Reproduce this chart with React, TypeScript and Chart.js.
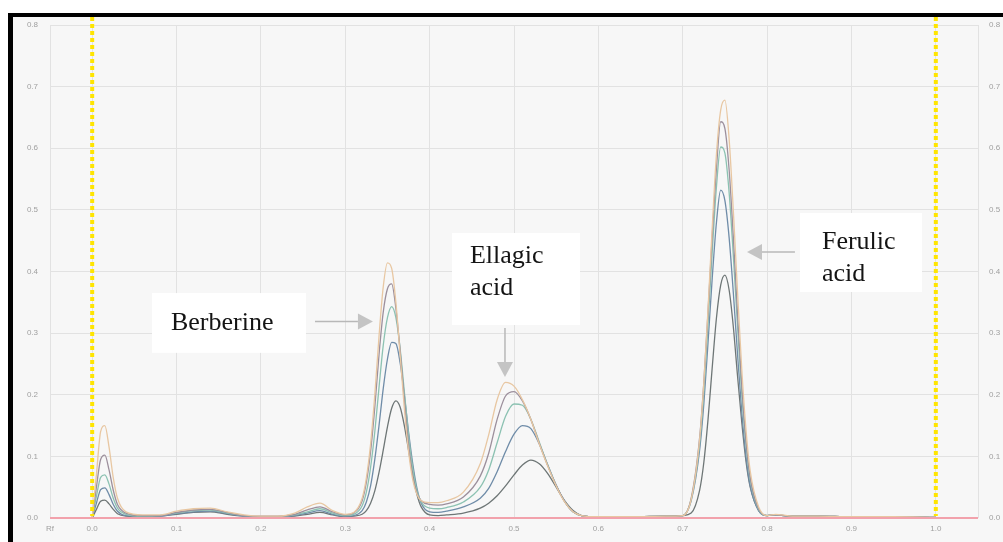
import React, { useEffect, useRef } from "react";
import { Chart, registerables } from "chart.js";

Chart.register(...registerables);

// Rf positions (x) shared by all densitogram tracks
const RF = [
  0.000, 0.005, 0.010, 0.015, 0.020, 0.025, 0.030, 0.040, 0.060, 0.080,
  0.100, 0.120, 0.140, 0.160, 0.180, 0.200, 0.220, 0.240, 0.255, 0.270,
  0.285, 0.300, 0.310, 0.320, 0.325, 0.330, 0.335, 0.340, 0.345, 0.350,
  0.355, 0.360, 0.365, 0.370, 0.375, 0.380, 0.385, 0.390, 0.400, 0.410,
  0.420, 0.440, 0.460, 0.470, 0.480, 0.490, 0.500, 0.510, 0.520, 0.530,
  0.540, 0.550, 0.560, 0.570, 0.580, 0.600, 0.640, 0.680, 0.700, 0.710,
  0.720, 0.725, 0.730, 0.735, 0.740, 0.745, 0.750, 0.755, 0.760, 0.765,
  0.770, 0.775, 0.780, 0.790, 0.800, 0.810, 0.830, 0.860, 0.900, 0.950,
  1.000,
];

const TRACK_A = [
  0.000, 0.070, 0.140, 0.150, 0.115, 0.065, 0.032, 0.010, 0.005, 0.005,
  0.011, 0.015, 0.016, 0.010, 0.005, 0.003, 0.003, 0.008, 0.018, 0.024,
  0.012, 0.006, 0.009, 0.032, 0.065, 0.120, 0.200, 0.295, 0.375, 0.414,
  0.405, 0.350, 0.265, 0.178, 0.108, 0.062, 0.038, 0.028, 0.025, 0.025,
  0.028, 0.042, 0.088, 0.135, 0.192, 0.220, 0.214, 0.192, 0.160, 0.120,
  0.084, 0.052, 0.026, 0.010, 0.004, 0.002, 0.002, 0.003, 0.004, 0.030,
  0.127, 0.219, 0.340, 0.472, 0.591, 0.662, 0.678, 0.615, 0.498, 0.366,
  0.241, 0.143, 0.076, 0.018, 0.004, 0.006, 0.003, 0.003, 0.002, 0.002,
  0.001,
];

const TRACK_B = [
  0.000, 0.050, 0.095, 0.102, 0.078, 0.045, 0.022, 0.008, 0.004, 0.004,
  0.009, 0.013, 0.014, 0.009, 0.004, 0.003, 0.003, 0.006, 0.013, 0.018,
  0.010, 0.005, 0.008, 0.028, 0.058, 0.108, 0.180, 0.265, 0.334, 0.372,
  0.380, 0.340, 0.272, 0.192, 0.120, 0.068, 0.040, 0.028, 0.022, 0.021,
  0.023, 0.034, 0.068, 0.105, 0.160, 0.198, 0.205, 0.190, 0.160, 0.121,
  0.085, 0.053, 0.027, 0.010, 0.004, 0.002, 0.002, 0.003, 0.004, 0.032,
  0.130, 0.220, 0.335, 0.458, 0.568, 0.643, 0.632, 0.565, 0.455, 0.330,
  0.215, 0.125, 0.066, 0.015, 0.004, 0.005, 0.003, 0.003, 0.002, 0.002,
  0.001,
];

const TRACK_C = [
  0.000, 0.035, 0.066, 0.070, 0.055, 0.032, 0.016, 0.006, 0.003, 0.004,
  0.008, 0.012, 0.013, 0.008, 0.004, 0.002, 0.002, 0.005, 0.010, 0.015,
  0.008, 0.004, 0.006, 0.020, 0.042, 0.082, 0.140, 0.212, 0.280, 0.325,
  0.343, 0.325, 0.275, 0.205, 0.135, 0.080, 0.044, 0.026, 0.016, 0.015,
  0.017, 0.026, 0.050, 0.078, 0.122, 0.165, 0.185, 0.183, 0.160, 0.123,
  0.086, 0.053, 0.027, 0.010, 0.004, 0.002, 0.002, 0.003, 0.004, 0.030,
  0.120, 0.205, 0.315, 0.432, 0.538, 0.602, 0.592, 0.528, 0.425, 0.310,
  0.200, 0.118, 0.062, 0.014, 0.004, 0.005, 0.003, 0.003, 0.002, 0.002,
  0.001,
];

const TRACK_D = [
  0.000, 0.024, 0.046, 0.049, 0.038, 0.022, 0.011, 0.004, 0.003, 0.003,
  0.007, 0.010, 0.011, 0.007, 0.003, 0.002, 0.002, 0.004, 0.008, 0.012,
  0.006, 0.003, 0.004, 0.012, 0.026, 0.052, 0.095, 0.150, 0.210, 0.258,
  0.285, 0.283, 0.252, 0.200, 0.140, 0.088, 0.048, 0.024, 0.010, 0.009,
  0.011, 0.018, 0.032, 0.048, 0.075, 0.108, 0.136, 0.150, 0.145, 0.120,
  0.086, 0.053, 0.027, 0.010, 0.004, 0.002, 0.002, 0.003, 0.004, 0.028,
  0.110, 0.185, 0.285, 0.390, 0.480, 0.532, 0.515, 0.455, 0.365, 0.265,
  0.172, 0.100, 0.052, 0.012, 0.004, 0.005, 0.003, 0.003, 0.002, 0.002,
  0.001,
];

const TRACK_E = [
  0.000, 0.014, 0.027, 0.029, 0.023, 0.014, 0.007, 0.003, 0.002, 0.003,
  0.006, 0.009, 0.010, 0.006, 0.003, 0.002, 0.002, 0.003, 0.006, 0.009,
  0.005, 0.002, 0.003, 0.006, 0.012, 0.024, 0.044, 0.074, 0.110, 0.148,
  0.178, 0.190, 0.180, 0.150, 0.110, 0.070, 0.038, 0.018, 0.005, 0.004,
  0.005, 0.008, 0.016, 0.024, 0.036, 0.052, 0.070, 0.086, 0.094, 0.088,
  0.072, 0.050, 0.028, 0.012, 0.004, 0.002, 0.002, 0.003, 0.004, 0.008,
  0.045, 0.090, 0.160, 0.245, 0.325, 0.378, 0.394, 0.370, 0.310, 0.230,
  0.155, 0.092, 0.050, 0.012, 0.004, 0.005, 0.003, 0.003, 0.002, 0.002,
  0.001,
];

const TRACKS = [TRACK_A, TRACK_B, TRACK_C, TRACK_D, TRACK_E];
const TRACK_COLORS = ["#e8c7a2", "#9c8f9c", "#8cc2b2", "#6f8ca8", "#6e7676"];

const X_TICKS = [-0.05, 0.0, 0.1, 0.2, 0.3, 0.4, 0.5, 0.6, 0.7, 0.8, 0.9, 1.0, 1.05];
const X_TICK_LABELS = ["Rf", "0.0", "0.1", "0.2", "0.3", "0.4", "0.5", "0.6", "0.7", "0.8", "0.9", "1.0", ""];
const Y_MIN = 0;
const Y_MAX = 0.8;
const Y_STEP = 0.1;
const FRONT_LINES = [0.0, 1.0];
const BASELINE_X = [-0.05, 1.05];

// Annotation labels (data units)
const LABELS = [
  { box: [0.0709, 0.365, 0.2534, 0.268], lines: ["Berberine"], textX: 0.0934, baselines: [0.305] },
  { box: [0.4265, 0.4625, 0.5782, 0.3132], lines: ["Ellagic", "acid"], textX: 0.4478, baselines: [0.4138, 0.3619] },
  { box: [0.839, 0.4949, 0.9836, 0.3667], lines: ["Ferulic", "acid"], textX: 0.865, baselines: [0.4365, 0.3846] },
];
const ARROWS = [
  { from: [0.2641, 0.3189], to: [0.3328, 0.3189] },
  { from: [0.4893, 0.3083], to: [0.4893, 0.2288] },
  { from: [0.833, 0.4316], to: [0.7762, 0.4316] },
];

const framePlugin = {
  id: "frame",
  beforeDraw(chart: any) {
    const { ctx, width, height } = chart;
    ctx.save();
    ctx.fillStyle = "#ffffff";
    ctx.fillRect(0, 0, width, height);
    ctx.fillStyle = "#f7f7f7";
    ctx.fillRect(13, 17, width - 13, height - 17);
    ctx.restore();
  },
  afterDraw(chart: any) {
    const { ctx, width, height } = chart;
    ctx.save();
    ctx.fillStyle = "#000000";
    ctx.fillRect(8, 13, width - 8, 4);
    ctx.fillRect(8, 13, 5, height - 13);
    ctx.restore();
  },
};

const frontPlugin = {
  id: "fronts",
  afterDatasetsDraw(chart: any) {
    const { ctx, chartArea, scales } = chart;
    ctx.save();
    ctx.strokeStyle = "#ffe500";
    ctx.lineWidth = 4;
    ctx.setLineDash([4, 3]);
    FRONT_LINES.forEach((v) => {
      const px = scales.x.getPixelForValue(v);
      ctx.beginPath();
      ctx.moveTo(px, chartArea.top - 8);
      ctx.lineTo(px, chartArea.bottom - 2);
      ctx.stroke();
    });
    ctx.restore();
  },
};

const labelPlugin = {
  id: "labels",
  afterDraw(chart: any) {
    const { ctx, scales } = chart;
    const X = (v: number) => scales.x.getPixelForValue(v);
    const Y = (v: number) => scales.y.getPixelForValue(v);
    ctx.save();
    LABELS.forEach((l) => {
      const x1 = X(l.box[0]), y1 = Y(l.box[1]), x2 = X(l.box[2]), y2 = Y(l.box[3]);
      ctx.fillStyle = "#ffffff";
      ctx.fillRect(x1, y1, x2 - x1, y2 - y1);
      ctx.fillStyle = "#141414";
      ctx.font = '26px "Liberation Serif", "Times New Roman", serif';
      ctx.textBaseline = "alphabetic";
      ctx.textAlign = "left";
      l.lines.forEach((t, i) => ctx.fillText(t, X(l.textX), Y(l.baselines[i])));
    });
    ctx.strokeStyle = "#b8b8b8";
    ctx.fillStyle = "#c4c4c4";
    ctx.lineWidth = 1.5;
    ARROWS.forEach((a) => {
      const fx = X(a.from[0]), fy = Y(a.from[1]), tx = X(a.to[0]), ty = Y(a.to[1]);
      const ang = Math.atan2(ty - fy, tx - fx);
      const hl = 15, hw = 8;
      const bx = tx - hl * Math.cos(ang), by = ty - hl * Math.sin(ang);
      ctx.beginPath();
      ctx.moveTo(fx, fy);
      ctx.lineTo(bx, by);
      ctx.stroke();
      ctx.beginPath();
      ctx.moveTo(tx, ty);
      ctx.lineTo(bx + hw * Math.sin(ang), by - hw * Math.cos(ang));
      ctx.lineTo(bx - hw * Math.sin(ang), by + hw * Math.cos(ang));
      ctx.closePath();
      ctx.fill();
    });
    ctx.restore();
  },
};

export default function App() {
  const ref = useRef<HTMLCanvasElement | null>(null);

  useEffect(() => {
    if (!ref.current) return;
    const tickFont = { size: 8, family: '"Liberation Sans", Arial, sans-serif' };
    const tickColor = "#a0a0a0";
    const gridColor = "#e2e2e2";

    const datasets: any[] = [
      {
        label: "baseline",
        data: BASELINE_X.map((x) => ({ x, y: 0 })),
        borderColor: "#f2a2ac",
        borderWidth: 2,
        pointRadius: 0,
        clip: false,
      },
      ...TRACKS.map((tr, i) => ({
        label: `track ${i + 1}`,
        data: RF.map((x, j) => ({ x, y: tr[j] })),
        borderColor: TRACK_COLORS[i],
        borderWidth: 1.3,
        pointRadius: 0,
        cubicInterpolationMode: "monotone",
        fill: false,
      })),
    ];

    const chart = new Chart(ref.current, {
      type: "line",
      data: { datasets },
      options: {
        responsive: false,
        animation: false,
        devicePixelRatio: 1,
        layout: { padding: { left: 14, right: 0, top: 25, bottom: 4 } },
        plugins: { legend: { display: false }, tooltip: { enabled: false } },
        scales: {
          x: {
            type: "linear",
            min: -0.05,
            max: 1.05,
            afterBuildTicks: (axis: any) => {
              axis.ticks = X_TICKS.map((v) => ({ value: v }));
            },
            afterFit: (axis: any) => {
              axis.height = 20;
            },
            ticks: {
              autoSkip: false,
              maxRotation: 0,
              padding: 6,
              font: tickFont,
              color: tickColor,
              callback: (_v: any, i: number) => X_TICK_LABELS[i],
            },
            grid: { color: gridColor, drawTicks: false },
            border: { display: false },
          },
          y: {
            type: "linear",
            position: "left",
            min: Y_MIN,
            max: Y_MAX,
            afterFit: (axis: any) => {
              axis.width = 36;
            },
            ticks: {
              stepSize: Y_STEP,
              padding: 12,
              font: tickFont,
              color: tickColor,
              callback: (v: any) => Number(v).toFixed(1),
            },
            grid: { color: gridColor, drawTicks: false },
            border: { display: false },
          },
          y2: {
            type: "linear",
            position: "right",
            min: Y_MIN,
            max: Y_MAX,
            afterFit: (axis: any) => {
              axis.width = 25;
            },
            ticks: {
              stepSize: Y_STEP,
              padding: 11,
              font: tickFont,
              color: tickColor,
              callback: (v: any) => Number(v).toFixed(1),
            },
            grid: { display: false, drawTicks: false },
            border: { display: false },
          },
        },
      } as any,
      plugins: [framePlugin, frontPlugin, labelPlugin],
    });
    return () => chart.destroy();
  }, []);

  return (
    <canvas
      ref={ref}
      width={1003}
      height={542}
      style={{ position: "fixed", left: 0, top: 0, width: 1003, height: 542, display: "block" }}
    />
  );
}
